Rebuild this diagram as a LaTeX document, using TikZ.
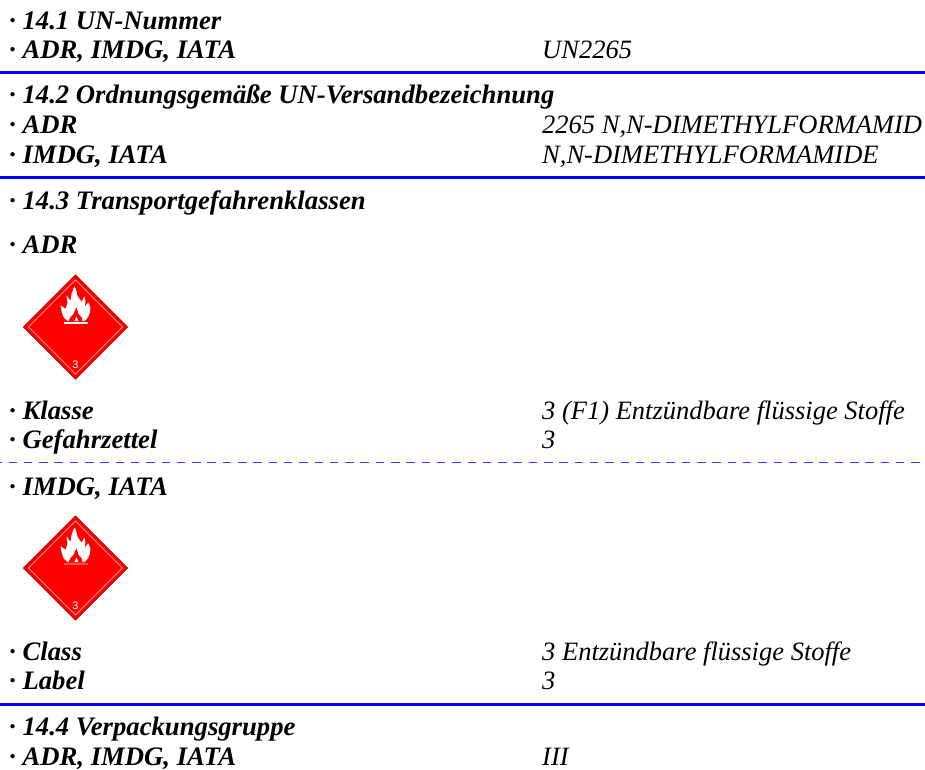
\documentclass[tikz,border=0pt]{standalone}
\usepackage{fontspec}
\setmainfont{Liberation Serif}
\newfontfamily\hazfont{Liberation Sans}
\definecolor{rulecol}{RGB}{0,0,255}
\definecolor{dashcol}{RGB}{60,60,255}
\definecolor{hazred}{RGB}{255,0,0}
\tikzset{x=1pt,y=-1pt,
 lab/.style={anchor=base west,inner sep=0pt,font=\fontsize{26.7}{26.7}\selectfont\bfseries\itshape},
 val/.style={anchor=base west,inner sep=0pt,font=\fontsize{26.5}{26.5}\selectfont\itshape},
 sep/.style={draw=rulecol,line width=2.2pt},
 sepdash/.style={draw=dashcol,line width=1.6pt,dash pattern=on 8.5pt off 6.8pt,dash phase=6.8pt},
 diamondfill/.style={fill=hazred,draw=black!25!red,line width=.8pt},
 flame/.style={fill=white,draw=none,rounded corners=.8pt},
 flamecore/.style={fill=hazred,draw=none,rounded corners=.6pt}}
\newcommand{\hazard}[4]{%
 \begin{scope}[shift={(#1,#2)}]
 \fill[diamondfill] (0,-52)--(52,0)--(0,52)--(-52,0)--cycle;
 \draw[white!55!red,line width=.8pt] (0,-47)--(47,0)--(0,47)--(-47,0)--cycle;
 \fill[flame] (-1,-41)--(1,-36)--(2,-31)--(5,-27)--(6,-25)--(9,-31)--(10,-25)--(9,-20)--(13,-25)--(15,-19)--(14,-13)--(12,-9)--(9,-6)--(-8,-6)--(-12,-10)--(-14,-16)--(-15,-22)--(-10,-18)--(-8,-24)--(-9,-32)--(-5,-26)--(-4,-33)--cycle;
 \fill[flamecore] (-7,-6)--(-5,-10)--(-2,-13)--(1,-20)--(3,-13)--(6,-10)--(7,-6)--(3,-6)--(1,-11)--(-1,-6)--cycle;
 \fill[#4] (-12,-4.6) rectangle (12,-3.4);
 \node[anchor=center,inner sep=0pt,text=white,font=\hazfont\fontsize{11}{11}\selectfont] (#3) at (0,38) {3};
 \end{scope}}
\begin{document}
\begin{tikzpicture}
\useasboundingbox (0,0) rectangle (925,769);
\node[lab] (t1) at (9,29) {· 14.1 UN-Nummer};
\node[lab] (t2) at (9,58) {· ADR, IMDG, IATA};
\node[val] (v2) at (542,58) {UN2265};
\coordinate (r1a) at (0,72.5); \coordinate (r1b) at (925,72.5);
\draw[sep] (r1a)--(r1b);
\node[lab] (t3) at (9,103) {· 14.2 Ordnungsgemäße UN-Versandbezeichnung};
\node[lab] (t4) at (9,133) {· ADR};
\node[val] (v4) at (542,133) {2265 N,N-DIMETHYLFORMAMID};
\node[lab] (t5) at (9,163) {· IMDG, IATA};
\node[val] (v5) at (542,163) {N,N-DIMETHYLFORMAMIDE};
\coordinate (r2a) at (0,177.5); \coordinate (r2b) at (925,177.5);
\draw[sep] (r2a)--(r2b);
\node[lab] (t6) at (9,209) {· 14.3 Transportgefahrenklassen};
\node[lab] (t7) at (9,253) {· ADR};
\hazard{75.5}{327}{n1}{white}
\node[lab] (t8) at (9,419) {· Klasse};
\node[val] (v8) at (542,419) {3 (F1) Entzündbare flüssige Stoffe};
\node[lab] (t9) at (9,448) {· Gefahrzettel};
\node[val] (v9) at (542,448) {3};
\coordinate (r3a) at (0,462.5); \coordinate (r3b) at (925,462.5);
\draw[sepdash] (r3a)--(r3b);
\node[lab] (t10) at (9,495) {· IMDG, IATA};
\hazard{75.5}{568}{n2}{white!30!red}
\node[lab] (t11) at (9,660) {· Class};
\node[val] (v11) at (542,660) {3 Entzündbare flüssige Stoffe};
\node[lab] (t12) at (9,689) {· Label};
\node[val] (v12) at (542,689) {3};
\coordinate (r4a) at (0,704.5); \coordinate (r4b) at (925,704.5);
\draw[sep] (r4a)--(r4b);
\node[lab] (t13) at (9,735) {· 14.4 Verpackungsgruppe};
\node[lab] (t14) at (9,765) {· ADR, IMDG, IATA};
\node[val] (v14) at (542,765) {III};
\end{tikzpicture}
\end{document}
